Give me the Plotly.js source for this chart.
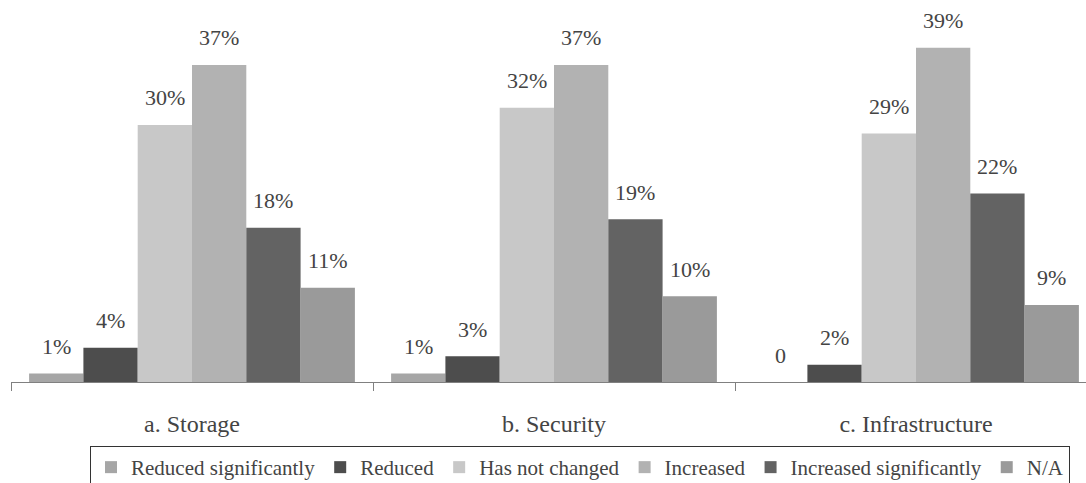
<!DOCTYPE html>
<html><head><meta charset="utf-8">
<script src="https://cdn.plot.ly/plotly-3.0.1.min.js"></script>
</head><body style="margin:0;padding:0;background:#fff"><div id="chart"></div>
<script>
const categories = ['a. Storage', 'b. Security', 'c. Infrastructure'];
const seriesNames = ['Reduced significantly', 'Reduced', 'Has not changed', 'Increased', 'Increased significantly', 'N/A'];
const seriesColors = ['#a6a6a6', '#4d4d4d', '#c8c8c8', '#b2b2b2', '#636363', '#9a9a9a'];
const reducedSignificantly = [1, 1, 0];
const reduced = [4, 3, 2];
const hasNotChanged = [30, 32, 29];
const increased = [37, 37, 39];
const increasedSignificantly = [18, 19, 22];
const notApplicable = [11, 10, 9];
const seriesValues = [reducedSignificantly, reduced, hasNotChanged, increased, increasedSignificantly, notApplicable];

const W = 1086, H = 483;
const margin = {l: 11, r: 0, t: 0, b: 101, autoexpand: false};
const plotW = W - margin.l - margin.r;
const plotH = H - margin.t - margin.b;
const catPx = 362;
const pxPerUnit = 8.568;
const bargap = 0.1;
const barPx = catPx * (1 - bargap) / seriesNames.length;

const traces = seriesNames.map((n, j) => ({
  type: 'bar', name: n, x: categories, y: seriesValues[j],
  marker: {color: seriesColors[j], line: {width: 0}},
  showlegend: true, hoverinfo: 'none'
}));

const annotations = [];
seriesValues.forEach((vals, j) => {
  vals.forEach((v, i) => {
    annotations.push({
      x: categories[i], y: v, xref: 'x', yref: 'y',
      xshift: (j - (seriesNames.length - 1) / 2) * barPx, yshift: 27,
      yanchor: 'middle', xanchor: 'center', showarrow: false,
      text: v === 0 ? '0' : v + '%',
      font: {family: 'Liberation Serif', size: 22}
    });
  });
});

const layout = {
  width: W, height: H, margin: margin,
  paper_bgcolor: '#fff', plot_bgcolor: '#fff',
  barmode: 'group', bargap: bargap, bargroupgap: 0,
  showlegend: true,
  legend: {
    orientation: 'h', x: (580 - margin.l) / plotW, xanchor: 'center',
    y: (plotH - 446) / plotH, yanchor: 'top',
    font: {family: 'Liberation Serif', size: 21},
    bordercolor: '#333', borderwidth: 1, bgcolor: '#fff', traceorder: 'normal', tracegroupgap: 0
  },
  xaxis: {
    type: 'category', range: [-0.5, -0.5 + plotW / catPx], automargin: false,
    showline: true, linecolor: '#808080', linewidth: 1,
    ticks: 'outside', tickson: 'boundaries', ticklen: 8, tickcolor: '#808080', tickwidth: 1,
    showgrid: false, zeroline: false,
    tickfont: {family: 'Liberation Serif', size: 24}, ticklabelstandoff: 20
  },
  yaxis: {range: [0, plotH / pxPerUnit], visible: false, showgrid: false, zeroline: false, automargin: false},
  annotations: annotations
};
Plotly.newPlot('chart', traces, layout, {displayModeBar: false});
</script></body></html>
